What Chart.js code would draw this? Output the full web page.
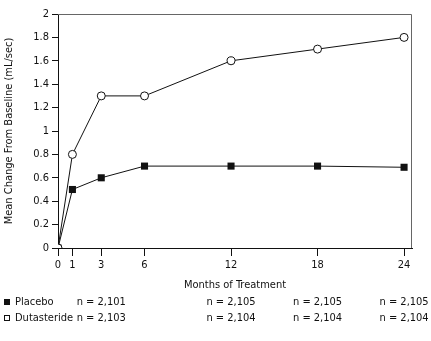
<!DOCTYPE html>
<html>
<head>
<meta charset="utf-8">
<script src="https://cdn.jsdelivr.net/npm/chart.js@4"></script>
<style>
  html, body { margin: 0; padding: 0; background: #fff; }
  #wrap { width: 431px; height: 341px; }
</style>
</head>
<body>
<div id="wrap"><canvas id="grafico" width="431" height="341"></canvas></div>
<script>
// valores
const meses = [0, 1, 3, 6, 12, 18, 24];
const placebo = [0, 0.5, 0.6, 0.7, 0.7, 0.7, 0.69];
const dutasterida = [0, 0.8, 1.3, 1.3, 1.6, 1.7, 1.8];

const nomesSeries = ['Placebo', 'Dutasteride'];
const mesesN = [3, 12, 18, 24];
const nPlacebo = ['n = 2,101', 'n = 2,105', 'n = 2,105', 'n = 2,105'];
const nDutasterida = ['n = 2,103', 'n = 2,104', 'n = 2,104', 'n = 2,104'];

const fonte = '"Liberation Sans Narrow", "DejaVu Sans Condensed", "Liberation Sans", sans-serif';
const corTexto = '#111';

function pontos(valores) {
  return meses.map((m, i) => ({ x: m, y: valores[i] }));
}

// moldura cinza do topo e da direita + legenda com os n
const extras = {
  id: 'extras',
  afterDraw(chart) {
    const ctx = chart.ctx;
    const a = chart.chartArea;
    const sx = chart.scales.x;
    ctx.save();
    ctx.strokeStyle = '#666';
    ctx.lineWidth = 1;
    ctx.beginPath();
    ctx.moveTo(a.left, a.top + 0.5);
    ctx.lineTo(a.right - 0.5, a.top + 0.5);
    ctx.lineTo(a.right - 0.5, a.bottom);
    ctx.stroke();

    ctx.font = '11px ' + fonte;
    ctx.textBaseline = 'middle';
    const linhas = [
      { y: 302, nome: nomesSeries[0], ns: nPlacebo, cheio: true },
      { y: 318, nome: nomesSeries[1], ns: nDutasterida, cheio: false }
    ];
    linhas.forEach(l => {
      if (l.cheio) {
        ctx.fillStyle = '#111';
        ctx.fillRect(4, l.y - 3, 6, 6);
      } else {
        ctx.strokeStyle = '#111';
        ctx.strokeRect(4.5, l.y - 2.5, 5, 5);
      }
      ctx.fillStyle = corTexto;
      ctx.textAlign = 'left';
      ctx.fillText(l.nome, 15, l.y);
      ctx.textAlign = 'center';
      l.ns.forEach((t, i) => {
        ctx.fillText(t, sx.getPixelForValue(mesesN[i]), l.y);
      });
    });
    ctx.restore();
  }
};

new Chart(document.getElementById('grafico'), {
  type: 'line',
  data: {
    datasets: [
      {
        label: nomesSeries[1],
        data: pontos(dutasterida),
        borderColor: '#111',
        borderWidth: 1,
        backgroundColor: '#fff',
        pointStyle: 'circle',
        pointRadius: 4,
        pointBorderWidth: 1,
        pointBorderColor: '#111',
        pointBackgroundColor: '#fff',
        tension: 0
      },
      {
        label: nomesSeries[0],
        data: pontos(placebo),
        borderColor: '#111',
        borderWidth: 1,
        backgroundColor: '#111',
        pointStyle: 'rect',
        pointRadius: 5,
        pointBorderWidth: 0,
        pointBackgroundColor: '#111',
        tension: 0
      }
    ]
  },
  options: {
    responsive: false,
    animation: false,
    layout: { padding: { top: 14, right: 19, bottom: 49, left: 0 } },
    plugins: {
      legend: { display: false },
      tooltip: { enabled: false }
    },
    scales: {
      x: {
        type: 'linear',
        min: 0,
        max: 24.55,
        afterBuildTicks: axis => { axis.ticks = meses.map(v => ({ value: v })); },
        afterFit: axis => { axis.height = 44; },
        ticks: {
          autoSkip: false,
          maxRotation: 0,
          color: corTexto,
          font: { family: fonte, size: 11 },
          padding: 3
        },
        grid: { drawOnChartArea: false, drawTicks: true, tickLength: 8, color: '#111' },
        border: { display: true, color: '#111', width: 1 },
        title: {
          display: true,
          text: 'Months of Treatment',
          color: corTexto,
          font: { family: fonte, size: 11 },
          padding: { top: 4, bottom: 0 }
        }
      },
      y: {
        min: 0,
        max: 2,
        afterFit: axis => { axis.width = 58; },
        ticks: {
          stepSize: 0.2,
          color: corTexto,
          font: { family: fonte, size: 11 },
          padding: 3,
          callback: v => String(+v.toFixed(1))
        },
        grid: { drawOnChartArea: false, drawTicks: true, tickLength: 6, color: '#111' },
        border: { display: true, color: '#111', width: 1 },
        title: {
          display: true,
          text: 'Mean Change From Baseline (mL/sec)',
          color: corTexto,
          font: { family: fonte, size: 11 },
          padding: { top: 3, bottom: 2 }
        }
      }
    }
  },
  plugins: [extras]
});
</script>
</body>
</html>
